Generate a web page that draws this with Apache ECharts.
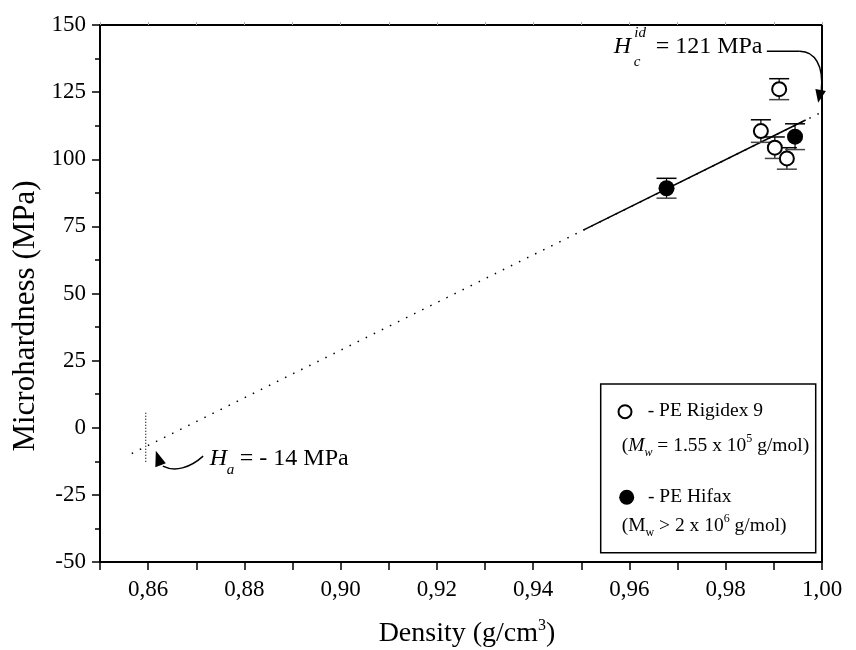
<!DOCTYPE html>
<html><head><meta charset="utf-8">
<script src="https://cdn.jsdelivr.net/npm/echarts@6/dist/echarts.min.js"></script>
<style>html,body{margin:0;padding:0;background:#fff}#c{width:856px;height:650px}</style>
</head><body><div id="c"></div>
<script>
const FONT = "'Liberation Serif','Times New Roman',serif";
const xTicks = ['0,86','0,88','0,90','0,92','0,94','0,96','0,98','1,00'];
const yTicks = ['-50','-25','0','25','50','75','100','125','150'];
const rigidexDensity = [0.9873, 0.9911, 0.9902, 0.9927];
const rigidexHardness = [110.5, 126.1, 104.3, 100.3];
const rigidexError = [4.2, 3.9, 4.0, 4.0];
const hifaxDensity = [0.9677, 0.9944];
const hifaxHardness = [89.2, 108.4];
const hifaxError = [3.7, 4.8];
const fitSolidDensity = [0.9504, 0.9966];
const fitSolidHardness = [73.6, 114.6];
const fitDottedDensity = [0.8566, 1.0];
const fitDottedHardness = [-9.6, 117.6];
const markerDensity = [0.8595, 0.8595];
const markerHardness = [5.6, -13.3];
const hcTip = [0.9992, 121];
const haTip = [0.8616, -8.6];

const zip = (a, b, c) => a.map((v, i) => c ? [v, b[i], c[i]] : [v, b[i]]);

function errRender(params, api) {
  const x = api.value(0), y = api.value(1), e = api.value(2);
  const top = api.coord([x, y + e]), bot = api.coord([x, y - e]);
  const hw = 10;
  return {type: 'group', children: [
    {type: 'line', shape: {x1: top[0], y1: top[1], x2: bot[0], y2: bot[1]}, style: {stroke: '#000', lineWidth: 1.2}},
    {type: 'line', shape: {x1: top[0] - hw, y1: top[1], x2: top[0] + hw, y2: top[1]}, style: {stroke: '#000', lineWidth: 1.5}},
    {type: 'line', shape: {x1: bot[0] - hw, y1: bot[1], x2: bot[0] + hw, y2: bot[1]}, style: {stroke: '#444', lineWidth: 1.5}}
  ]};
}

const chart = echarts.init(document.getElementById('c'), null, {renderer: 'canvas'});
const axisLineStyle = {color: '#000', width: 2};
chart.setOption({
  animation: false,
  backgroundColor: '#fff',
  grid: {left: 100, right: 34, top: 25, bottom: 88},
  xAxis: [{
    type: 'value', min: 0.85, max: 1.0, interval: 0.01,
    axisLine: {onZero: false, lineStyle: axisLineStyle},
    axisTick: {show: true, inside: false, length: 8, lineStyle: {color: '#000', width: 1.5}},
    splitLine: {show: false},
    axisLabel: {
      margin: 16, color: '#000', fontFamily: FONT, fontSize: 23,
      formatter: v => { const k = Math.round(v * 100); const s = (k / 100).toFixed(2).replace('.', ','); return xTicks.includes(s) ? s : ''; }
    }
  }, {
    type: 'value', position: 'top', min: 0.85, max: 1.0, interval: 0.01,
    axisLine: {onZero: false, lineStyle: axisLineStyle},
    axisTick: {show: true, inside: false, length: 3, lineStyle: {color: '#aaa', width: 1}},
    axisLabel: {show: false}, splitLine: {show: false}
  }],
  yAxis: [{
    type: 'value', min: -50, max: 150, interval: 25,
    axisLine: {show: true, onZero: false, lineStyle: axisLineStyle},
    axisTick: {show: true, inside: false, length: 8, lineStyle: {color: '#000', width: 1.5}},
    minorTick: {show: true, splitNumber: 2, length: 5, lineStyle: {color: '#000', width: 1.5}},
    splitLine: {show: false},
    axisLabel: {margin: 14, color: '#000', fontFamily: FONT, fontSize: 23,
      formatter: v => { const s = String(v); return yTicks.includes(s) ? s : ''; }}
  }, {
    type: 'value', position: 'right', min: -50, max: 150, interval: 25,
    axisLine: {show: true, onZero: false, lineStyle: axisLineStyle},
    axisTick: {show: false}, axisLabel: {show: false}, splitLine: {show: false}
  }],
  series: [
    {type: 'line', data: zip(fitDottedDensity, fitDottedHardness), symbol: 'none', z: 1,
      lineStyle: {color: '#000', width: 1.5, type: [1.5, 7.5]}},
    {type: 'line', data: zip(markerDensity, markerHardness), symbol: 'none', z: 1,
      lineStyle: {color: '#000', width: 1.2, type: [1, 2]}},
    {type: 'line', data: zip(fitSolidDensity, fitSolidHardness), symbol: 'none', z: 2,
      lineStyle: {color: '#000', width: 1.6}},
    {type: 'custom', renderItem: errRender, data: zip(rigidexDensity, rigidexHardness, rigidexError), z: 3},
    {type: 'custom', renderItem: errRender, data: zip(hifaxDensity, hifaxHardness, hifaxError), z: 3},
    {type: 'scatter', data: zip(rigidexDensity, rigidexHardness), symbol: 'circle', symbolSize: 14, z: 4,
      itemStyle: {color: '#fff', borderColor: '#000', borderWidth: 2, opacity: 1}},
    {type: 'scatter', data: zip(hifaxDensity, hifaxHardness), symbol: 'circle', symbolSize: 16, z: 4,
      itemStyle: {color: '#000', borderColor: '#000', borderWidth: 0, opacity: 1}}
  ]
});

const P = d => chart.convertToPixel({xAxisIndex: 0, yAxisIndex: 0}, d);
const T = P(hcTip), B = P(haTip);
const it = (text, x, y, size) => ({type: 'text', x: x, y: y, z: 10,
  style: {text: text, font: 'italic ' + size + 'px ' + FONT, fill: '#000', verticalAlign: 'middle', align: 'left'}});
const tx = (text, x, y, size, align) => ({type: 'text', x: x, y: y, z: 10,
  style: {text: text, font: size + 'px ' + FONT, fill: '#000', verticalAlign: 'middle', align: align || 'left'}});
const LF = 19.5;
const richStyle = {
  i: {fontFamily: FONT, fontStyle: 'italic', fontSize: LF, lineHeight: 26},
  n: {fontFamily: FONT, fontSize: LF, lineHeight: 26},
  sub: {fontFamily: FONT, fontStyle: 'italic', fontSize: 12, verticalAlign: 'bottom', lineHeight: 12},
  subn: {fontFamily: FONT, fontSize: 12, verticalAlign: 'bottom', lineHeight: 12},
  sup: {fontFamily: FONT, fontSize: 12, verticalAlign: 'top', lineHeight: 12}
};
const rt = (text, x, y) => ({type: 'text', x: x, y: y, z: 10,
  style: {text: text, rich: richStyle, fill: '#000', verticalAlign: 'middle', align: 'left', font: LF + 'px ' + FONT}});
const lineEl = (x1, y1, x2, y2) => ({type: 'line', z: 10, shape: {x1, y1, x2, y2}, style: {stroke: '#000', lineWidth: 1.5}});
const bez = (x1, y1, cpx1, cpy1, cpx2, cpy2, x2, y2) => ({type: 'bezierCurve', z: 10,
  shape: {x1, y1, cpx1, cpy1, cpx2, cpy2, x2, y2}, style: {stroke: '#000', lineWidth: 1.5, fill: null}});

const g = [
  // top annotation
  it('H', T[0] - 204.3, T[1] - 55.8, 24),
  it('c', T[0] - 184.3, T[1] - 41.3, 15),
  it('id', T[0] - 183.8, T[1] - 70.3, 15),
  tx('= 121 MPa', T[0] - 162.5, T[1] - 55.8, 24),
  lineEl(T[0] - 51.3, T[1] - 51.6, T[0] - 18.3, T[1] - 51.6),
  bez(T[0] - 18.3, T[1] - 51.6, T[0] - 3.3, T[1] - 51.3, T[0] + 5.7, T[1] - 37.3, T[0] + 3.2, T[1] - 12.3),
  {type: 'polygon', z: 10, shape: {points: [[T[0], T[1]], [T[0] - 2.8, T[1] - 13.8], [T[0] + 7.7, T[1] - 11.8]]}, style: {fill: '#000'}},
  // bottom annotation
  it('H', B[0] + 54, B[1] + 7.6, 24),
  it('a', B[0] + 71, B[1] + 19.3, 15),
  tx('= - 14 MPa', B[0] + 84, B[1] + 7.6, 24),
  bez(B[0] + 47.3, B[1] + 5.3, B[0] + 34, B[1] + 17.3, B[0] + 19, B[1] + 21.3, B[0] + 7, B[1] + 15.3),
  {type: 'polygon', z: 10, shape: {points: [[B[0], B[1]], [B[0] - 0.5, B[1] + 16.3], [B[0] + 10, B[1] + 12.3]]}, style: {fill: '#000'}},
  // legend box
  {type: 'rect', z: 10, shape: {x: 600.7, y: 384, width: 215, height: 168.7}, style: {fill: '#fff', stroke: '#000', lineWidth: 1.5}},
  {type: 'circle', z: 11, shape: {cx: 625, cy: 411.7, r: 6.5}, style: {fill: '#fff', stroke: '#000', lineWidth: 2}},
  tx('- PE Rigidex 9', 647.7, 411, LF),
  rt('{n|(}{i|M}{sub|w}{n| = 1.55 x 10}{sup|5}{n| g/mol)}', 621.7, 446),
  {type: 'circle', z: 11, shape: {cx: 626.7, cy: 497.3, r: 7.5}, style: {fill: '#000', stroke: '#000', lineWidth: 0}},
  tx('- PE Hifax', 648, 497, LF),
  rt('{n|(M}{subn|w}{n| > 2 x 10}{sup|6}{n| g/mol)}', 621.7, 526),
  // axis titles
  {type: 'text', z: 10, x: 26, y: 316, rotation: Math.PI / 2,
    style: {text: 'Microhardness (MPa)', font: '31px ' + FONT, fill: '#000', align: 'center', verticalAlign: 'middle'}},
  {type: 'text', z: 10, x: 467, y: 634,
    style: {text: '{n|Density (g/cm}{sup|3}{n|)}', fill: '#000', align: 'center', verticalAlign: 'middle',
      rich: {n: {fontFamily: FONT, fontSize: 28, lineHeight: 32}, sup: {fontFamily: FONT, fontSize: 16, verticalAlign: 'top', lineHeight: 16}}}}
];
chart.setOption({graphic: g});
</script></body></html>
